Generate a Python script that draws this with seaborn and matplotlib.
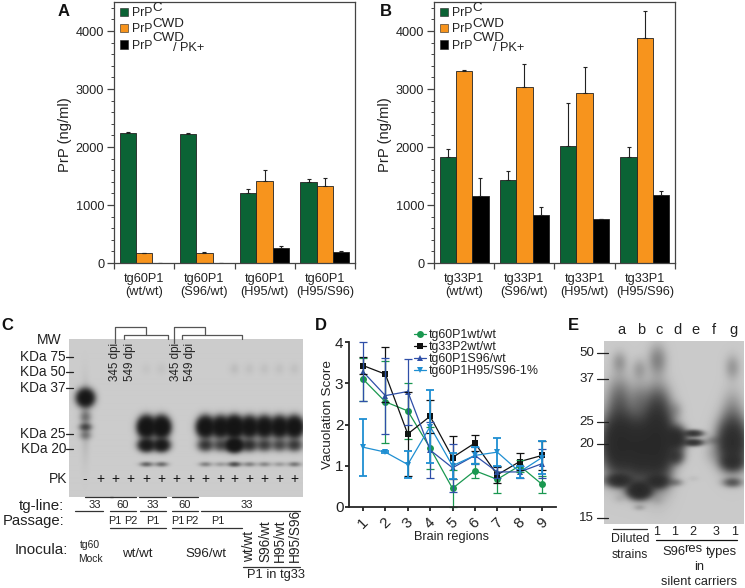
"""
Five panel PrP figure: ELISA bars (A, B), blots (C, E) and vacuolation profile (D).
Panel boxes and annotations are laid out in figure pixels.
"""

import numpy as np
import pandas as pd
import matplotlib
matplotlib.use("Agg")
import matplotlib.pyplot as plt
import seaborn as sns
from matplotlib.lines import Line2D
from matplotlib.patches import Patch
from matplotlib.ticker import MultipleLocator

W, H = 745, 588

GREEN = "#0b6335"
ORANGE = "#f7941d"
BLACK = "#000000"
TEXT = "#222222"

SPECIES = ["PrPC", "PrPCWD", "PrPCWD/PK+"]

# panel A
A_LINES = ["tg60P1\n(wt/wt)", "tg60P1\n(S96/wt)", "tg60P1\n(H95/wt)", "tg60P1\n(H95/S96)"]
A_PRPC = [2250, 2225, 1215, 1395]
A_CWD = [170, 165, 1420, 1325]
A_PK = [5, 0, 260, 190]
A_PRPC_ERR = [10, 20, 55, 55]
A_CWD_ERR = [5, 25, 190, 135]
A_PK_ERR = [0, 0, 40, 10]

# panel B
B_LINES = ["tg33P1\n(wt/wt)", "tg33P1\n(S96/wt)", "tg33P1\n(H95/wt)", "tg33P1\n(H95/S96)"]
B_PRPC = [1825, 1430, 2010, 1820]
B_CWD = [3305, 3030, 2930, 3880]
B_PK = [1160, 820, 755, 1175]
B_PRPC_ERR = [140, 155, 755, 175]
B_CWD_ERR = [25, 400, 455, 460]
B_PK_ERR = [305, 150, 5, 75]

# panel D
REGIONS = [1, 2, 3, 4, 5, 6, 7, 8, 9]
D_NAMES = ["tg60P1wt/wt", "tg33P2wt/wt", "tg60P1S96/wt", "tg60P1H95/S96-1%"]
D_COLORS = ["#1a9850", "#111111", "#2f4fa8", "#1f8fd2"]
D_MARKERS = ["o", "s", "^", "v"]
D_GREEN = [3.10, 2.55, 2.33, 1.43, 0.45, 0.88, 0.67, 1.00, 0.55]
D_BLACK = [3.43, 3.22, 1.77, 2.20, 1.20, 1.55, 0.78, 1.10, 1.25]
D_NAVY = [3.28, 2.70, 2.80, 1.38, 0.95, 1.25, 0.85, 0.85, 1.05]
D_LIGHT = [1.45, 1.33, 1.03, 1.95, 1.00, 1.25, 1.33, 0.85, 1.20]
D_GREEN_ERR = [0.52, 1.00, 0.67, 0.50, 0.45, 0.18, 0.33, 0.15, 0.20]
D_BLACK_ERR = [0.20, 0.67, 1.03, 0.40, 0.52, 0.20, 0.20, 0.20, 0.35]
D_NAVY_ERR = [0.72, 0.92, 0.80, 0.67, 0.58, 0.20, 0.15, 0.15, 0.35]
D_LIGHT_ERR = [0.69, 0.03, 0.33, 0.88, 0.32, 0.20, 0.34, 0.15, 0.40]

# panel C blot, lane index + band position in figure pixels
C_PK = ["-", "+", "+", "+", "+", "+", "+", "+", "+", "+", "+", "+", "+", "+", "+"]
C_LANE_X = [85, 100, 115, 130, 146, 161, 176, 190, 205, 220, 234, 249, 264, 279, 294]
C_LANES = [4, 5, 8, 9, 10, 11, 12, 13, 14]
C_MAIN = [6.0, 6.0, 5.5, 5.0, 7.0, 5.0, 5.0, 5.0, 5.5]
C_SECOND = [3.5, 3.5, 1.6, 1.2, 6.0, 1.8, 1.4, 1.2, 1.5]
C_THIRD = [0.8, 0.7, 0.5, 0.3, 1.1, 0.5, 0.45, 0.3, 0.6]
C_FAINT = [0.04, 0.05, 0.00, 0.00, 0.08, 0.06, 0.06, 0.06, 0.06]
C_MOCK_Y = [398, 417, 427, 435, 420]
C_MOCK_AMP = [4.5, 0.5, 1.1, 0.5, 0.15]
C_MOCK_SX = [5, 4, 4, 4, 3]
C_MOCK_SY = [5, 4, 2.5, 3, 26]
C_KDA = ["KDa 75", "KDa 50", "KDa 37", "KDa 25", "KDa 20"]
C_KDA_Y = [357, 372, 388, 434, 449]

# panel E blot
E_LETTERS = ["a", "b", "c", "d", "e", "f", "g"]
E_LANE_X = [619, 639, 657, 675, 693, 712, 732]
E_BAND_LANE = [0, 0, 0, 0, 0, 1, 1, 1, 1, 1, 2, 2, 2, 2, 2, 3, 3, 3, 3, 4, 4, 4, 5, 5, 6, 6, 6, 6, 6]
E_BAND_Y = [443, 480, 362, 400, 498, 448, 490, 369, 507, 400, 443, 481, 360, 405, 500,
            438, 456, 482, 410, 433, 442, 478, 440, 453, 442, 462, 482, 367, 410]
E_BAND_SX = [10, 8, 5, 8, 4, 9, 7, 5, 4, 7, 9, 7, 6, 8, 4,
             6.5, 5.5, 5, 5, 6, 6, 4, 6, 6, 9, 7, 6, 5, 7]
E_BAND_SY = [18, 4, 7, 15, 3, 18, 5, 7, 2, 12, 22, 4, 10, 14, 3,
             7, 5, 2.5, 6, 2.2, 2.2, 2, 3, 7, 15, 5, 3, 8, 14]
E_BAND_AMP = [5.0, 3.0, 0.35, 0.8, 0.1, 4.0, 5.0, 0.3, 0.25, 0.5, 5.0, 2.6, 0.55, 0.8, 0.08,
              3.5, 1.6, 0.5, 0.25, 2.2, 2.4, 0.06, 0.35, 0.14, 3.5, 1.8, 1.1, 0.35, 0.35]
E_MW = ["50", "37", "25", "20", "15"]
E_MW_Y = [353, 379, 422, 444, 518]

sns.set_theme(style="ticks")
plt.rcParams.update({
    "font.family": ["Liberation Sans", "DejaVu Sans"],
    "text.color": TEXT,
    "axes.labelcolor": TEXT,
    "xtick.color": TEXT,
    "ytick.color": TEXT,
})


def box_axes(fig, left, top, right, bottom):
    """Axes placed from a box given in figure pixels."""
    return fig.add_axes([left / W, 1 - bottom / H, (right - left) / W, (bottom - top) / H])


def bar_panel(fig, ov, left, lines, values, errors, label_x, legend_x):
    """Grouped bars with upward error bars and the PrP legend."""
    ax = box_axes(fig, left, 2, left + 241, 263)
    frame = pd.DataFrame({
        "line": lines * 3,
        "species": [s for s in SPECIES for _ in lines],
        "prp": [v for series in values for v in series],
    })
    sns.barplot(data=frame, x="line", y="prp", hue="species", hue_order=SPECIES,
                palette=[GREEN, ORANGE, BLACK], width=0.81, gap=0, legend=False, saturation=1,
                edgecolor="#222222", linewidth=0.6, ax=ax, errorbar=None)
    for bars, errs in zip(ax.containers, errors):
        xs = [p.get_x() + p.get_width() / 2 for p in bars]
        ax.errorbar(xs, [p.get_height() for p in bars], yerr=[np.zeros(len(errs)), errs],
                    fmt="none", ecolor="#222222", elinewidth=0.8, capsize=1.5, capthick=0.8)
    ax.set_xlim(-0.5, 3.5)
    ax.set_ylim(0, 4500)
    ax.set_xlabel("")
    ax.set_ylabel("")
    ax.set_xticks(range(4), lines, fontsize=9.2, linespacing=1.15)
    ax.tick_params(axis="x", length=0, pad=7)
    ax.set_xticks([-0.5, 0.5, 1.5, 2.5, 3.5], minor=True)
    ax.tick_params(axis="x", which="minor", length=4, width=0.9, color="#444444")
    ax.set_yticks([0, 1000, 2000, 3000, 4000])
    ax.yaxis.set_minor_locator(MultipleLocator(200))
    ax.tick_params(axis="y", labelsize=9.2, length=5, width=0.9, pad=2, color="#444444")
    ax.tick_params(axis="y", which="minor", length=2.5, width=0.7, color="#444444")
    for side in ax.spines.values():
        side.set_color("#444444")
        side.set_linewidth(0.9)
    ov.text(label_x, 135, "PrP (ng/ml)", rotation=90, ha="center", va="center", fontsize=10.6)

    handles = [Patch(facecolor=c, edgecolor="#222222", linewidth=0.4) for c in (GREEN, ORANGE, BLACK)]
    ax.legend(handles, ["PrP"] * 3, loc="upper left", frameon=False, fontsize=8.8,
              bbox_to_anchor=(legend_x / W, 1 - 7 / H), bbox_transform=fig.transFigure,
              borderpad=0, borderaxespad=0, handlelength=0.66, handleheight=0.66,
              handletextpad=0.33, labelspacing=0.36)
    sup_x = legend_x + 32
    ov.text(sup_x, 8, "C", fontsize=9.6, ha="left", va="center")
    ov.text(sup_x, 24, "CWD", fontsize=9.6, ha="left", va="center")
    ov.text(sup_x, 38, "CWD", fontsize=9.6, ha="left", va="center")
    ov.text(sup_x + 21, 48, "/ PK+", fontsize=9.2, ha="left", va="center")


def add_bands(grid, x0, y0, xs, ys, sx, sy, amps):
    """Add gaussian blot bands to a density grid whose corner is at pixel x0, y0."""
    yy, xx = np.mgrid[0:grid.shape[0], 0:grid.shape[1]]
    for x, y, a, s, t in zip(xs, ys, amps, sx, sy):
        grid += a * np.exp(-((xx + x0 - x) ** 2) / (2 * s ** 2) - ((yy + y0 - y) ** 2) / (2 * t ** 2))


def show_gel(fig, box, grid, paper, floor):
    left, top, right, bottom = box
    ax = box_axes(fig, left, top, right, bottom)
    shade = floor + (paper - floor) * np.exp(-grid)
    ax.imshow(shade, cmap="gray", vmin=0, vmax=1, aspect="auto", interpolation="bilinear")
    ax.axis("off")


def panel_c(fig, ov):
    box = (69, 339, 303, 497)
    grid = np.zeros((box[3] - box[1], box[2] - box[0]))
    lane_x = [C_LANE_X[i] for i in C_LANES]
    n = len(C_LANES)
    add_bands(grid, box[0], box[1], [C_LANE_X[0]] * 5, C_MOCK_Y, C_MOCK_SX, C_MOCK_SY, C_MOCK_AMP)
    add_bands(grid, box[0], box[1], lane_x, [427] * n, [4.9] * n, [5.8] * n, C_MAIN)
    add_bands(grid, box[0], box[1], lane_x, [445] * n, [4.9] * n, [3.8] * n, C_SECOND)
    add_bands(grid, box[0], box[1], lane_x, [464] * n, [4.2] * n, [1.6] * n, C_THIRD)
    add_bands(grid, box[0], box[1], lane_x, [369] * n, [3.5] * n, [4] * n, C_FAINT)
    show_gel(fig, box, grid, 0.80, 0.08)

    ov.text(61, 340, "MW", fontsize=10, ha="right", va="center")
    for label, y in zip(C_KDA, C_KDA_Y):
        ov.text(66, y, label, fontsize=9.8, ha="right", va="center")
        ov.plot([66, 73], [y, y], color=TEXT, lw=0.9)
    ov.text(67, 479, "PK", fontsize=10, ha="right", va="center")
    for x, sign in zip(C_LANE_X, C_PK):
        ov.text(x, 479, sign, fontsize=10, ha="center", va="center", color="#111111")
    for x, label in zip([115, 130, 176, 190], ["345 dpi", "549 dpi", "345 dpi", "549 dpi"]):
        ov.text(x, 362, label, rotation=90, fontsize=8.4, ha="center", va="center")

    bracket = "#555555"
    for x0, x1, x2, x3 in [(115, 146, 124, 168), (174, 205, 182, 242)]:
        ov.plot([x0, x0, x1, x1], [343, 327, 327, 335], color=bracket, lw=0.9)
        ov.plot([x2, x2, x3, x3], [339, 335, 335, 339], color=bracket, lw=0.9)

    rules = [(85, 113, 497), (110, 136, 497), (139, 166, 497), (172, 198, 497),
             (75, 103, 511), (110, 136, 511), (140, 166, 511), (172, 198, 511), (201, 300, 511),
             (110, 166, 528), (172, 242, 528), (243, 300, 567)]
    for x0, x1, y in rules:
        ov.plot([x0, x1], [y, y], color="#333333", lw=0.9)

    ov.text(64, 506, "tg-line:", fontsize=10.9, ha="right", va="center")
    for x, label in zip([95, 123, 153, 185, 247], ["33", "60", "33", "60", "33"]):
        ov.text(x, 505, label, fontsize=8, ha="center", va="center")
    ov.text(64, 521, "Passage:", fontsize=10.7, ha="right", va="center")
    for x, label in zip([115, 131, 153, 178, 192, 218], ["P1", "P2", "P1", "P1", "P2", "P1"]):
        ov.text(x, 521, label, fontsize=7.8, ha="center", va="center")
    ov.text(68, 550, "Inocula:", fontsize=11, ha="right", va="center")
    ov.text(90, 552, "tg60\nMock", fontsize=7.4, ha="center", va="center", linespacing=1.5)
    ov.text(137, 554, "wt/wt", fontsize=9.6, ha="center", va="center")
    ov.text(206, 554, "S96/wt", fontsize=9.6, ha="center", va="center")
    for x, label in zip([249, 265, 280, 295], ["wt/wt", "S96/wt", "H95/wt", "H95/S96"]):
        ov.text(x, 562, label, rotation=90, fontsize=9.8, ha="center", va="bottom")
    ov.text(276, 575, "P1 in tg33", fontsize=9.3, ha="center", va="center")


def panel_d(fig, ov):
    ax = box_axes(fig, 349, 342, 556, 507)
    series = [D_GREEN, D_BLACK, D_NAVY, D_LIGHT]
    errors = [D_GREEN_ERR, D_BLACK_ERR, D_NAVY_ERR, D_LIGHT_ERR]
    frame = pd.DataFrame({
        "region": REGIONS * 4,
        "score": [v for s in series for v in s],
        "group": [n for n in D_NAMES for _ in REGIONS],
    })
    sns.lineplot(data=frame, x="region", y="score", hue="group", hue_order=D_NAMES,
                 style="group", style_order=D_NAMES, palette=D_COLORS, markers=D_MARKERS,
                 dashes=False, markersize=5, linewidth=0.9, markeredgewidth=0,
                 errorbar=None, legend=False, ax=ax)
    for values, errs, color, lw in zip(series, errors, D_COLORS, [0.9, 0.9, 0.9, 1.3]):
        ax.errorbar(REGIONS, values, yerr=errs, fmt="none", ecolor=color, elinewidth=lw,
                    capsize=2.8, capthick=lw, clip_on=False)
    ax.set_xlim(0.375, 9.625)
    ax.set_ylim(0, 4)
    ax.set_xticks(REGIONS)
    ax.set_yticks([0, 1, 2, 3, 4])
    ax.tick_params(axis="x", labelsize=11, length=3, width=1.2, rotation=45, pad=3, color="#111111")
    ax.tick_params(axis="y", labelsize=11, length=3, width=1.2, pad=1, color="#111111")
    ax.set_xlabel("")
    ax.set_ylabel("")
    sns.despine(ax=ax)
    ax.spines["left"].set_linewidth(1.3)
    ax.spines["bottom"].set_linewidth(1.3)
    ov.text(328, 415, "Vacuolation Score", rotation=90, fontsize=9.7, ha="center", va="center")
    ov.text(452, 537, "Brain regions", fontsize=9.2, ha="center", va="center")

    handles = [Line2D([0], [0], color=c, marker=m, markersize=5, lw=0.9, markeredgewidth=0)
               for c, m in zip(D_COLORS, D_MARKERS)]
    ax.legend(handles, D_NAMES, loc="upper left", frameon=False, fontsize=8.9,
              bbox_to_anchor=(414 / W, 1 - 329 / H), bbox_transform=fig.transFigure,
              borderpad=0, borderaxespad=0, handlelength=1.0, handletextpad=0.2, labelspacing=0.0)


def panel_e(fig, ov):
    box = (604, 341, 744, 524)
    grid = np.zeros((box[3] - box[1], box[2] - box[0]))
    xs = [E_LANE_X[i] for i in E_BAND_LANE]
    add_bands(grid, box[0], box[1], xs, E_BAND_Y, E_BAND_SX, E_BAND_SY, E_BAND_AMP)
    show_gel(fig, box, grid, 0.79, 0.16)

    for x, label in zip(E_LANE_X, E_LETTERS):
        ov.text(x + 2, 330, label, fontsize=10.5, ha="center", va="center")
    for y, label in zip(E_MW_Y, E_MW):
        ov.text(594, y, label, fontsize=9.6, ha="right", va="center")
        ov.plot([597, 608], [y, y], color=TEXT, lw=0.9)
    ov.plot([613, 647], [529, 529], color="#333333", lw=0.9)
    ov.plot([656, 737], [540, 540], color="#111111", lw=0.9)
    ov.text(630, 539, "Diluted", fontsize=8.8, ha="center", va="center")
    ov.text(630, 555, "strains", fontsize=8.8, ha="center", va="center")
    for x, label in zip([657, 675, 693, 716, 735], ["1", "1", "2", "3", "1"]):
        ov.text(x, 532, label, fontsize=9, ha="center", va="center")
    ov.text(662, 552, "S96", fontsize=9.4, ha="left", va="center")
    ov.text(684, 549, "res", fontsize=9.4, ha="left", va="center")
    ov.text(706, 552, "types", fontsize=9.4, ha="left", va="center")
    ov.text(699, 567, "in", fontsize=9.2, ha="center", va="center")
    ov.text(699, 582, "silent carriers", fontsize=9.2, ha="center", va="center")


def main():
    fig = plt.figure(figsize=(W / 100, H / 100), dpi=100, facecolor="white")
    ov = fig.add_axes([0, 0, 1, 1], zorder=10)
    ov.set_xlim(0, W)
    ov.set_ylim(H, 0)
    ov.axis("off")

    bar_panel(fig, ov, 114, A_LINES, [A_PRPC, A_CWD, A_PK],
              [A_PRPC_ERR, A_CWD_ERR, A_PK_ERR], 65, 120)
    bar_panel(fig, ov, 434, B_LINES, [B_PRPC, B_CWD, B_PK],
              [B_PRPC_ERR, B_CWD_ERR, B_PK_ERR], 385, 440)
    panel_c(fig, ov)
    panel_d(fig, ov)
    panel_e(fig, ov)

    for x, y, label in [(64, 12, "A"), (386, 11, "B"), (7, 325, "C"), (321, 325, "D"), (573, 326, "E")]:
        ov.text(x, y, label, fontsize=12, fontweight="bold", ha="center", va="center", color="#111111")

    fig.savefig("out.png", dpi=100)
    plt.close(fig)


if __name__ == "__main__":
    main()
